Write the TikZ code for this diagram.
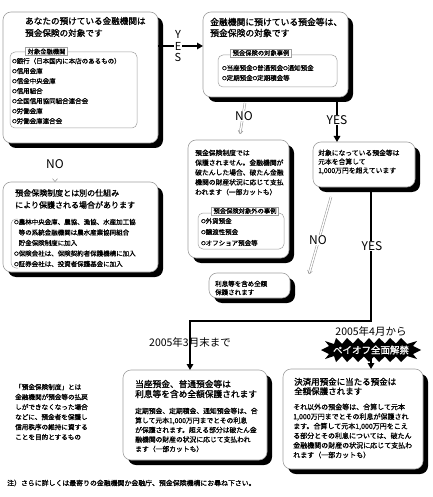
\documentclass[tikz,border=0pt]{standalone}
\usepackage{fontspec}
\usetikzlibrary{arrows.meta,shadows,calc}
\setmainfont{Noto Sans CJK JP}
\newfontfamily\jpr{Noto Sans CJK JP}[FakeBold=0.9]
\newfontfamily\jpb{Noto Sans CJK JP}[FakeBold=1.3]
\newcommand\fs[2]{\fontsize{#1}{#2}\selectfont}
\newcommand\maru{\raisebox{0.6pt}{\fontsize{4.5}{5}\selectfont ○}}
\tikzset{
  box/.style={draw=gray!75, line width=0.6pt, fill=white, rounded corners=8pt,
    inner sep=0pt, outer sep=0pt, anchor=north west,
    drop shadow={shadow xshift=5pt, shadow yshift=-5pt, fill=black, opacity=1}},
  subbox/.style={draw=gray!75, line width=0.5pt, rounded corners=5pt,
    inner sep=0pt, outer sep=0pt, anchor=north west},
  tag/.style={draw=gray!75, line width=0.5pt, fill=white, inner xsep=2pt,
    inner ysep=1pt, font=\jpr\fs{6.3}{7}},
  txt/.style={anchor=west, align=left, inner sep=0pt},
  conn/.style={line width=1.8pt, black},
  arr/.style={-{Triangle[length=6pt,width=6.5pt]}},
  noarr/.style={draw=gray!85, line width=0.5pt, double=white, double distance=1.4pt,
    -{Straight Barb[length=3pt,width=5pt]}},
  yn/.style={font=\fs{12}{12}, inner sep=0.4pt, fill=white},
  datelab/.style={font=\fs{10.5}{11}, inner sep=0pt}
}
\begin{document}
\begin{tikzpicture}[x=1pt,y=-1pt]
\useasboundingbox (0,0) rectangle (432,497);

% ---------- boxes ----------
\node[box, minimum width=155pt, minimum height=131pt] (b1) at (3,12) {};
\node[box, minimum width=145pt, minimum height=85pt] (b2) at (203,12) {};
\node[box, minimum width=102pt, minimum height=45pt] (b3) at (313,142) {};
\node[box, minimum width=101pt, minimum height=118pt] (b4) at (188,140) {};
\node[box, minimum width=81pt, minimum height=25pt] (b5) at (209,273) {};
\node[box, minimum width=155pt, minimum height=90pt] (b8) at (3,182) {};
\node[box, minimum width=144pt, minimum height=90pt] (b6) at (123,370) {};
\node[box, minimum width=140pt, minimum height=100pt] (b7) at (283,369) {};

% ---------- box 1 ----------
\node[txt, font=\jpb\fs{8.6}{12}] (t1) at (25,27)
  {あなたの預けている金融機関は\\預金保険の対象です};
\node[subbox, minimum width=127pt, minimum height=76pt] (s1) at (10,52) {};
\node[tag] (g1) at (46.5,51.5) {対象金融機関};
\node[txt, font=\jpr\fs{6.5}{10}] (i1) at (12,91)
  {\maru 銀行（日本国内に本店のあるもの）\\
   \maru 信用金庫\\
   \maru 信金中央金庫\\
   \maru 信用組合\\
   \maru 全国信用協同組合連合会\\
   \maru 労働金庫\\
   \maru 労働金庫連合会};

% ---------- box 2 ----------
\node[txt, font=\jpb\fs{8.8}{11}] (t2) at (210,27.5)
  {金融機関に預けている預金等は、\\預金保険の対象です};
\node[subbox, minimum width=119pt, minimum height=32pt] (s2) at (218,55) {};
\node[tag] (g2) at (261,53) {預金保険の対象事例};
\node[txt, font=\jpr\fs{6.5}{10}] (i2) at (222,73)
  {\maru 当座預金\maru 普通預金\maru 通知預金\\
   \maru 定期預金\maru 定期積金等};

% ---------- box 3 ----------
\node[txt, font=\jpr\fs{6.8}{8.8}] (t3) at (318,162)
  {対象になっている預金等は\\元本を合算して\\1,000万円を超えています};

% ---------- box 4 ----------
\node[txt, font=\jpr\fs{6.8}{9.8}] (t4) at (195,172.5)
  {預金保険制度では\\保護されません。金融機関が\\破たんした場合、破たん金融\\機関の財産状況に応じて支払\\われます（一部カットも）};
\node[subbox, minimum width=86pt, minimum height=36pt] (s4) at (198,213) {};
\node[tag] (g4) at (245,211) {預金保険対象外の事例};
\node[txt, font=\jpr\fs{6.5}{11}] (i4) at (201,232)
  {\maru 外貨預金\\\maru 譲渡性預金\\\maru オフショア預金等};

% ---------- box 5 ----------
\node[txt, font=\jpr\fs{6.5}{8.5}] (t5) at (215,288)
  {利息等を含め全額\\保護されます};

% ---------- box 8 ----------
\node[txt, font=\jpb\fs{8}{12}] (t8) at (15,199)
  {預金保険制度とは別の仕組み\\により保護される場合があります};
\draw[gray!75, line width=0.5pt, rounded corners=5pt]
  (18,219) -- (11,219) -- (11,268) -- (18,268);
\node[txt, font=\jpr\fs{6.5}{10.5}] (i8) at (14,243)
  {\maru 農林中央金庫、農協、漁協、水産加工協\\
   \phantom{\maru}等の系統金融機関は農水産業協同組合\\
   \phantom{\maru}貯金保険制度に加入\\
   \maru 保険会社は、保険契約者保護機構に加入\\
   \maru 証券会社は、投資者保護基金に加入};

% ---------- box 6 ----------
\node[txt, font=\jpb\fs{8.7}{10}] (t6) at (135,389)
  {当座預金、普通預金等は\\利息等を含め全額保護されます};
\node[txt, font=\jpr\fs{6.8}{9.5}] (d6) at (135,430)
  {定期預金、定期積金、通知預金等は、合\\算して元本1,000万円までとその利息\\が保護されます。超える部分は破たん金\\融機関の財産の状況に応じて支払われ\\ます（一部カットも）};

% ---------- box 7 ----------
\node[txt, font=\jpb\fs{8.5}{9.5}] (t7) at (294,386.5)
  {決済用預金に当たる預金は\\全額保護されます};
\node[txt, font=\jpr\fs{7}{9.6}] (d7) at (293,431)
  {それ以外の預金等は、合算して元本\\1,000万円までとその利息が保護され\\ます。合算して元本1,000万円をこえ\\る部分とその利息については、破たん\\金融機関の財産の状況に応じて支払わ\\れます（一部カットも）};

% ---------- side note & footnote ----------
\node[txt, font=\jpr\fs{6.6}{10}] (note) at (15,412)
  {「預金保険制度」とは\\金融機関が預金等の払戻\\しができなくなった場合\\などに、預金者を保護し\\信用秩序の維持に資する\\ことを目的とするもの};
\node[txt, font=\jpr\fs{6.9}{8}] (foot) at (7,483)
  {注）さらに詳しくは最寄りの金融機関か金融庁、預金保険機構にお尋ね下さい。};

% ---------- YES connectors ----------
\coordinate (ya) at (158,46);
\draw[conn, arr] (ya) -- (b2.west |- ya);
\node[yn, font=\fs{11}{11}] (yY) at (178,34.5) {Y};
\node[yn, font=\fs{11}{11}] (yE) at (178,46) {E};
\node[yn, font=\fs{11}{11}] (yS) at (178,57.5) {S};

\coordinate (c23) at (337,102);
\draw[conn, arr] (c23) -- (b3.north -| c23);
\node[yn] (yes2) at (337,120) {YES};

\coordinate (j0) at (371,192);
\coordinate (j1) at (371,321);
\coordinate (j2) at (190,321);
\draw[conn, arr] (j0) -- (j1) -- (j2) -- (b6.north -| j2);
\node[yn] (yes3) at (372,246) {YES};

\node[datelab] (l3) at (190,342) {2005年3月末まで};
\node[datelab] (l4) at (371,331) {2005年4月から};

% starburst
\fill[black, shift={(371,350)}]
  (-50,0) -- (-42,-4) -- (-46,-9) -- (-37,-6) -- (-35,-12) -- (-29,-6) -- (-24,-12)
  -- (-18,-6.5) -- (-13,-12) -- (-7,-6.5) -- (-2,-12) -- (3,-6.5) -- (8,-12)
  -- (14,-6.5) -- (19,-12) -- (25,-6.5) -- (30,-12) -- (36,-6) -- (46,-9) -- (42,-4)
  -- (50,0) -- (42,4) -- (46,9) -- (36,6) -- (30,12) -- (25,6.5) -- (19,12)
  -- (14,6.5) -- (8,12) -- (3,6.5) -- (-2,12) -- (-7,6.5) -- (-13,12) -- (-18,6.5)
  -- (-24,12) -- (-29,6) -- (-35,12) -- (-37,6) -- (-46,9) -- (-42,4) -- cycle;
\node[font=\jpb\fs{9.5}{10}, text=white, inner sep=0pt] (sb) at (371,350) {ペイオフ全面解禁};
\draw[conn, arr] (sb.south) -- (b7.north -| sb);

% ---------- NO connectors ----------
\coordinate (n1) at (55,150);
\draw[noarr] (n1) -- (b8.north -| n1);
\node[yn] (no1) at (55,164) {NO};

\coordinate (n2a) at (245,103);
\coordinate (n2b) at (240,134);
\draw[noarr] (n2a) -- (n2b);
\node[yn] (no2) at (244,116) {NO};

\coordinate (n3a) at (331,197);
\coordinate (n3b) at (309,274);
\draw[noarr] (n3a) -- (n3b);
\node[yn] (no3) at (318,240) {NO};
\end{tikzpicture}
\end{document}
